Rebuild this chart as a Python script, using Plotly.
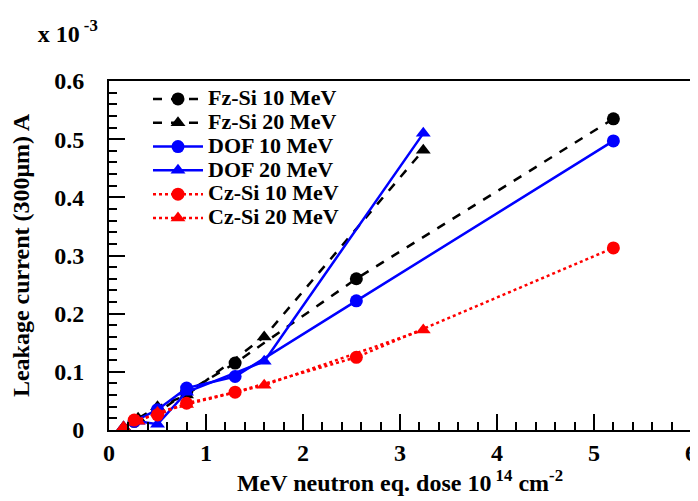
import plotly.graph_objects as go

dose_10 = [0.26, 0.5, 0.8, 1.3, 2.55, 5.2]
dose_20 = [0.15, 0.3, 0.5, 0.8, 1.6, 3.24]

fz_10 = [0.015, 0.03, 0.065, 0.115, 0.26, 0.535]
fz_20 = [0.005, 0.02, 0.04, 0.06, 0.16, 0.481]
dof_10 = [0.015, 0.035, 0.072, 0.092, 0.222, 0.497]
dof_20 = [0.005, 0.015, 0.01, 0.065, 0.118, 0.51]
cz_10 = [0.017, 0.026, 0.046, 0.065, 0.125, 0.313]
cz_20 = [0.005, 0.015, 0.03, 0.044, 0.077, 0.172]

y_minor_ticks = [round(i * 0.02, 2) for i in range(31)]

series = [
    ("Fz-Si 10 MeV", dose_10, fz_10, "black", "dash", "circle"),
    ("Fz-Si 20 MeV", dose_20, fz_20, "black", "dash", "triangle-up"),
    ("DOF 10 MeV", dose_10, dof_10, "#0000ff", "solid", "circle"),
    ("DOF 20 MeV", dose_20, dof_20, "#0000ff", "solid", "triangle-up"),
    ("Cz-Si 10 MeV", dose_10, cz_10, "#ff0000", "dot", "circle"),
    ("Cz-Si 20 MeV", dose_20, cz_20, "#ff0000", "dot", "triangle-up"),
]

FONT = "Liberation Serif"
BIG = 24
NB = "\u00a0"

fig = go.Figure()
for name, xs, ys, col, dash, sym in series:
    fig.add_trace(go.Scatter(
        x=xs, y=ys, mode="lines+markers",
        name='<span style="font-size:22px"><b>%s</b></span>' % name,
        line=dict(color=col, width=2.5, dash=dash),
        marker=dict(color=col, symbol=sym, size=13),
    ))

fig.update_xaxes(range=[0, 6], dtick=1, showgrid=False, zeroline=False,
                 showline=True, mirror=True, linecolor="black", linewidth=2,
                 ticks="inside", ticklen=16, tickwidth=2, tickcolor="black",
                 minor=dict(dtick=0.2, ticks="inside", ticklen=8, tickwidth=2, tickcolor="black"),
                 tickprefix="<b>", ticksuffix="</b>",
                 tickfont=dict(family=FONT, size=BIG, color="black"),
                 title=dict(text="<b>MeV neutron eq. dose 10<sup> 14</sup> cm<sup>-2</sup></b>",
                            standoff=2, font=dict(family=FONT, size=BIG, color="black")))
fig.update_yaxes(range=[0, 0.6], dtick=0.1, showgrid=False, zeroline=False,
                 showline=True, mirror=True, linecolor="black", linewidth=2,
                 ticks="inside", ticklen=16, tickwidth=2, tickcolor="black",
                 minor=dict(tickmode="array", tickvals=y_minor_ticks, ticks="inside",
                            ticklen=8, tickwidth=2, tickcolor="black"),
                 tickprefix="<b>", ticksuffix="</b>" + NB * 3,
                 tickfont=dict(family=FONT, size=BIG, color="black"),
                 title=dict(text="<b>Leakage current (300μm) A</b>",
                            standoff=20, font=dict(family=FONT, size=BIG, color="black")))

fig.update_layout(
    width=690, height=493,
    margin=dict(l=101, r=7, t=73, b=71, autoexpand=False),
    plot_bgcolor="white", paper_bgcolor="white",
    font=dict(family=FONT, color="black"),
    title=dict(text="<b>x 10<sup> -3</sup></b>", x=0.043, xref="container", xanchor="left",
               y=0.949, yref="container", yanchor="middle",
               font=dict(family=FONT, size=BIG, color="black")),
    legend=dict(x=0.067, y=0.997, xanchor="left", yanchor="top",
                bgcolor="rgba(0,0,0,0)", tracegroupgap=0, itemwidth=50,
                font=dict(family=FONT, size=16, color="black")),
)

fig.write_html("out.html")
